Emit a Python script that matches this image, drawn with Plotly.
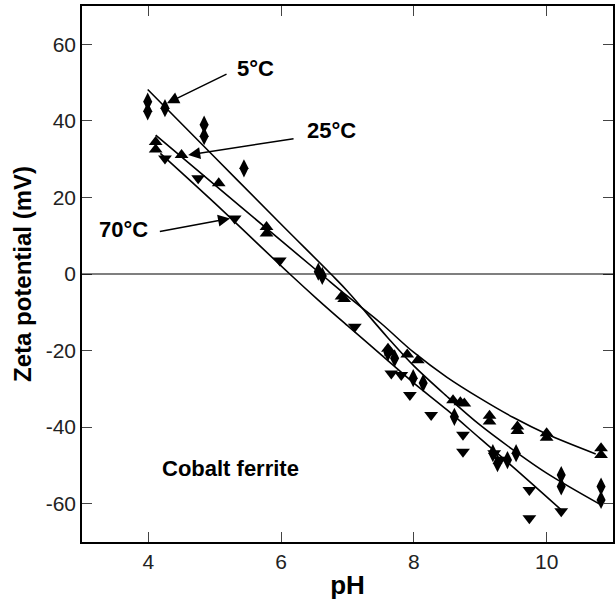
import plotly.graph_objects as go

# ---- measured data ----
ph_5 = [3.99, 3.99, 4.25, 4.84, 4.84, 5.44, 6.56, 6.62, 7.61, 7.71, 7.99, 8.14, 8.61,
        9.19, 9.26, 9.41, 9.54, 10.22, 10.22, 10.82, 10.82]
zeta_5 = [45.0, 42.5, 43.3, 39.0, 36.0, 27.6, 0.6, -0.5, -20.5, -22.0, -27.2, -28.5, -37.3,
          -46.8, -49.4, -48.6, -46.8, -52.5, -55.5, -55.5, -59.0]

ph_25 = [4.11, 4.11, 4.50, 5.06, 5.78, 5.78, 6.91, 6.95, 7.61, 7.65, 7.90, 8.06, 8.59, 8.70,
         8.76, 9.14, 9.14, 9.56, 9.56, 10.0, 10.0, 10.82, 10.82]
zeta_25 = [34.5, 32.5, 31.1, 23.7, 12.3, 10.6, -5.9, -6.5, -19.5, -20.5, -21.0, -22.5, -33.0,
           -33.5, -33.8, -37.0, -38.5, -39.8, -41.0, -41.6, -42.8, -45.5, -47.3]

ph_70 = [4.25, 4.75, 5.30, 5.98, 7.11, 7.66, 7.81, 7.94, 8.26, 8.74, 8.74, 9.21, 9.30,
         9.74, 9.74, 10.22]
zeta_70 = [30.2, 25.0, 14.5, 3.5, -13.8, -26.0, -26.4, -31.6, -36.8, -42.0, -46.4, -46.8,
           -48.5, -56.4, -63.8, -62.0]

# ---- fitted curves ----
fit_ph_5 = [3.99, 5.0, 6.0, 6.75, 7.0, 7.6, 8.0, 8.5, 9.0, 9.5, 10.0, 10.82]
fit_zeta_5 = [48.2, 30.5, 13.0, 0.0, -4.5, -16.5, -24.0, -32.0, -39.5, -46.0, -52.0, -60.3]

fit_ph_25 = [4.11, 5.0, 6.0, 6.6, 7.0, 7.5, 8.0, 8.5, 9.0, 9.5, 10.0, 10.74]
fit_zeta_25 = [36.3, 23.3, 8.7, 0.0, -5.8, -12.8, -20.5, -27.0, -32.5, -37.5, -41.8, -47.0]

fit_ph_70 = [4.18, 5.0, 6.13, 6.56, 7.0, 7.5, 8.0, 8.5, 9.0, 9.5, 10.22]
fit_zeta_70 = [31.5, 18.5, 0.0, -6.8, -13.5, -21.0, -28.5, -35.5, -43.0, -50.5, -61.6]

x_ticks = [4, 6, 8, 10]
y_ticks = [-60, -40, -20, 0, 20, 40, 60]
y_tick_text = ["-60", "-40", "-20", "0", "20", "40", "60"]

FONT = "Liberation Sans, Arial, sans-serif"

fig = go.Figure()

for fx, fy in [(fit_ph_5, fit_zeta_5), (fit_ph_25, fit_zeta_25), (fit_ph_70, fit_zeta_70)]:
    fig.add_trace(go.Scatter(x=fx, y=fy, mode="lines",
                             line=dict(color="black", width=1.6, shape="spline"),
                             showlegend=False, hoverinfo="skip"))

fig.add_trace(go.Scatter(x=ph_5, y=zeta_5, mode="markers", name="5°C",
                         marker=dict(symbol="diamond-tall", size=13, color="black")))
fig.add_trace(go.Scatter(x=ph_25, y=zeta_25, mode="markers", name="25°C",
                         marker=dict(symbol="triangle-up", size=12, color="black")))
fig.add_trace(go.Scatter(x=ph_70, y=zeta_70, mode="markers", name="70°C",
                         marker=dict(symbol="triangle-down", size=12, color="black")))

lab_font = dict(family=FONT, size=22, color="black")

# labels and arrows
labels = [
    ("<b>5°C</b>", 5.62, 53.8),
    ("<b>25°C</b>", 6.76, 37.6),
    ("<b>70°C</b>", 3.62, 11.7),
]
for t, x, y in labels:
    fig.add_annotation(x=x, y=y, text=t, showarrow=False, font=lab_font, xref="x", yref="y")

arrows = [
    (5.20, 52.4, 4.28, 44.6),
    (6.21, 35.4, 4.60, 31.1),
    (4.15, 11.0, 5.23, 14.5),
]
for tx, ty, hx, hy in arrows:
    fig.add_annotation(x=hx, y=hy, ax=tx, ay=ty, xref="x", yref="y", axref="x", ayref="y",
                       text="", showarrow=True, arrowhead=2, arrowsize=1.6, arrowwidth=1.5,
                       arrowcolor="black")

fig.add_annotation(x=6.3, y=-50.7, text="<b>Cobalt ferrite</b>", showarrow=False,
                   xanchor="right", font=lab_font, xref="x", yref="y")

fig.add_hline(y=0, line=dict(color="black", width=1.2))

tick_font = dict(family=FONT, size=21, color="#222222")
fig.update_xaxes(range=[3, 11], tickvals=x_ticks, ticks="inside", ticklen=10, tickwidth=1,
                 tickcolor="#444444", showline=True, linecolor="black", linewidth=1.5,
                 mirror="ticks", showgrid=False, zeroline=False, tickfont=tick_font,
                 title=dict(text="<b>pH</b>", font=dict(family=FONT, size=26, color="black"),
                            standoff=4))
fig.update_yaxes(range=[-70, 70], tickvals=y_ticks, ticktext=y_tick_text, ticks="inside",
                 ticklen=10, tickwidth=1,
                 tickcolor="#444444", showline=True, linecolor="black", linewidth=1.5,
                 mirror="ticks", showgrid=False, zeroline=False, tickfont=tick_font,
                 title=dict(text="<b>Zeta potential (mV)</b>",
                            font=dict(family=FONT, size=24, color="black"), standoff=7))

fig.update_layout(width=616, height=606, margin=dict(l=82, r=1, t=6, b=64),
                  plot_bgcolor="white", paper_bgcolor="white", showlegend=False)

fig.write_html("out.html")
